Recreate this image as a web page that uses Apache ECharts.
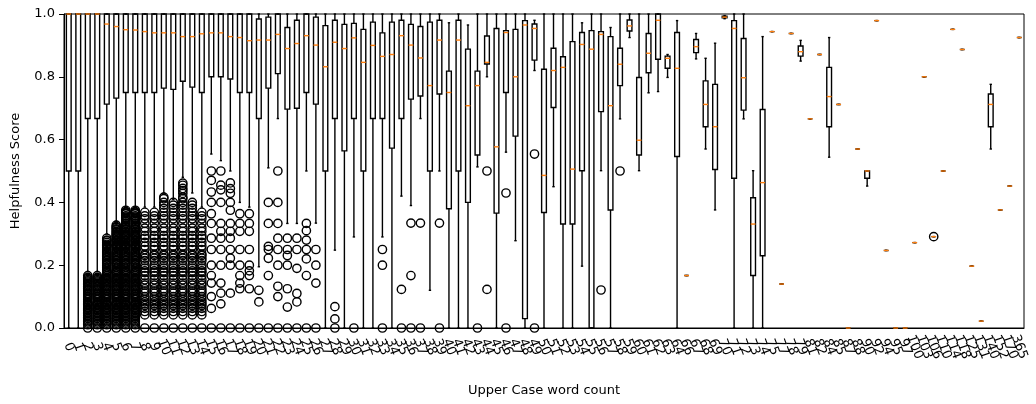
<!DOCTYPE html>
<html>
<head>
<meta charset="utf-8">
<script src="https://cdn.jsdelivr.net/npm/echarts@6/dist/echarts.min.js"></script>
<style>
  html, body { margin: 0; padding: 0; background: #fff; }
  #chart { width: 1036px; height: 404px; }
</style>
</head>
<body>
<div id="chart"></div>
<script>
// x categories: upper case word count
const categories = [
  '0','1','2','3','4','5','6','7','8','9','10','11','12','13','14','15','16','17','18','19',
  '20','21','22','23','24','25','26','27','28','29','30','31','32','33','34','35','36','37','38','39',
  '40','41','42','43','44','45','46','47','48','49','50','51','52','53','54','55','56','57','58','59',
  '60','61','62','63','64','66','67','68','69','70','71','72','73','74','75','77','78','79','81','82',
  '84','85','87','88','90','92','94','95','97','100','103','106','110','114','118','125','131','140','152','170',
  '365'
];

// box statistics per category
const whiskerLow = [
  0, 0, 0.18, 0.18, 0.30, 0.34, 0.385, 0.385, 0.385, 0.385,
  0.43, 0.41, 0.48, 0.43, 0.385, 0.554, 0.533, 0.5, 0.4, 0.385,
  0.195, 0.51, 0.667, 0.333, 0.333, 0.5, 0.334, 0, 0.248, 0,
  0.29, 0, 0, 0.29, 0, 0.42, 0.39, 0.667, 0.12, 0.5,
  0, 0, 0, 0.513, 0.8, 0, 0.56, 0.278, 0, 0.82,
  0, 0.45, 0, 0, 0.197, 0, 0.501, 0, 0.666, 0.925,
  0.501, 0.749, 0.753, 0.798, 0, 0.167, 0.857, 0.57, 0.376, 0.985,
  0, 0.666, 0, 0, 0.944, 0.14, 0.938, 0.85, 0.666, 0.871,
  0.544, 0.712, 0, 0.57, 0.452, 0.979, 0.247, 0, 0, 0.272,
  0.8, 0.291, 0.5, 0.951, 0.887, 0.197, 0.022, 0.57, 0.376, 0.452, 0.925
];
const q1 = [
  0.5, 0.5, 0.667, 0.667, 0.713, 0.732, 0.75, 0.75, 0.75, 0.75,
  0.764, 0.76, 0.786, 0.767, 0.75, 0.8, 0.8, 0.793, 0.75, 0.75,
  0.667, 0.764, 0.81, 0.697, 0.7, 0.75, 0.713, 0.5, 0.667, 0.564,
  0.667, 0.5, 0.667, 0.667, 0.573, 0.667, 0.729, 0.739, 0.5, 0.745,
  0.38, 0.5, 0.4, 0.551, 0.841, 0.366, 0.75, 0.611, 0.03, 0.853,
  0.368, 0.702, 0.331, 0.331, 0.501, 0, 0.689, 0.376, 0.772, 0.946,
  0.551, 0.813, 0.856, 0.827, 0.546, 0.167, 0.877, 0.641, 0.505, 0.988,
  0.477, 0.694, 0.167, 0.23, 0.944, 0.14, 0.938, 0.866, 0.666, 0.871,
  0.641, 0.712, 0, 0.57, 0.477, 0.979, 0.247, 0, 0, 0.272,
  0.8, 0.291, 0.5, 0.951, 0.887, 0.197, 0.022, 0.641, 0.376, 0.452, 0.925
];
const median = [
  1, 1, 1, 1, 0.968, 0.96, 0.95, 0.949, 0.944, 0.94,
  0.94, 0.94, 0.928, 0.928, 0.937, 0.94, 0.94, 0.928, 0.925, 0.915,
  0.917, 0.917, 0.935, 0.89, 0.906, 0.931, 0.901, 0.832, 0.91, 0.89,
  0.924, 0.846, 0.9, 0.865, 0.871, 0.931, 0.901, 0.86, 0.772, 0.917,
  0.75, 0.917, 0.708, 0.772, 0.846, 0.577, 0.941, 0.8, 0.965, 0.954,
  0.486, 0.82, 0.83, 0.506, 0.903, 0.888, 0.935, 0.708, 0.84, 0.962,
  0.598, 0.875, 0.98, 0.859, 0.827, 0.167, 0.896, 0.712, 0.641, 0.99,
  0.954, 0.797, 0.331, 0.463, 0.944, 0.14, 0.938, 0.88, 0.666, 0.871,
  0.737, 0.712, 0, 0.57, 0.5, 0.979, 0.247, 0, 0, 0.272,
  0.8, 0.291, 0.5, 0.951, 0.887, 0.197, 0.022, 0.712, 0.376, 0.452, 0.925
];
const q3 = [
  1, 1, 1, 1, 1, 1, 1, 1, 1, 1,
  1, 1, 1, 1, 1, 1, 1, 1, 1, 1,
  0.984, 0.99, 1, 0.957, 0.98, 1, 0.99, 0.963, 0.98, 0.967,
  0.97, 0.951, 0.974, 0.94, 0.974, 0.98, 0.967, 0.96, 0.974, 0.98,
  0.818, 0.98, 0.888, 0.818, 0.93, 0.954, 0.947, 0.951, 0.979, 0.968,
  0.824, 0.891, 0.864, 0.912, 0.941, 0.947, 0.944, 0.928, 0.891, 0.981,
  0.798, 0.938, 1, 0.866, 0.941, 0.167, 0.919, 0.787, 0.776, 0.993,
  0.979, 0.922, 0.415, 0.696, 0.944, 0.14, 0.938, 0.898, 0.666, 0.871,
  0.83, 0.712, 0, 0.57, 0.5, 0.979, 0.247, 0, 0, 0.272,
  0.8, 0.291, 0.5, 0.951, 0.887, 0.197, 0.022, 0.745, 0.376, 0.452, 0.925
];
const whiskerHigh = [
  1, 1, 1, 1, 1, 1, 1, 1, 1, 1,
  1, 1, 1, 1, 1, 1, 1, 1, 1, 1,
  1, 1, 1, 1, 1, 1, 1, 1, 1, 1,
  1, 1, 1, 1, 1, 1, 1, 1, 1, 1,
  0.972, 1, 0.965, 1, 1, 1, 1, 1, 1, 0.98,
  1, 1, 1, 1, 0.972, 1, 1, 0.957, 1, 1,
  1, 1, 1, 0.871, 0.979, 0.167, 0.938, 0.859, 0.907, 0.995,
  1, 1, 0.501, 0.928, 0.944, 0.14, 0.938, 0.916, 0.666, 0.871,
  0.925, 0.712, 0, 0.57, 0.5, 0.979, 0.247, 0, 0, 0.272,
  0.8, 0.291, 0.5, 0.951, 0.887, 0.197, 0.022, 0.776, 0.376, 0.452, 0.925
];

// outliers of the crowded low-count categories (typical score fractions)
const finePool = [
  0, 0.0105, 0.0154, 0.02, 0.025, 0.03, 0.0345, 0.04, 0.0455, 0.05, 0.0556, 0.0588,
  0.0625, 0.0667, 0.0714, 0.0741, 0.0769, 0.08, 0.0833, 0.0909, 0.0952, 0.1, 0.1053,
  0.1081, 0.1111, 0.1176, 0.1212, 0.125, 0.1304, 0.1333, 0.1379, 0.1429, 0.1463, 0.15,
  0.1538, 0.1579, 0.1613, 0.1667, 0.1714, 0.1765, 0.1786, 0.1818, 0.1875, 0.1935, 0.2,
  0.2051, 0.2083, 0.2143, 0.2174, 0.2222, 0.2273, 0.2308, 0.2353, 0.24, 0.2439, 0.25,
  0.2558, 0.2609, 0.2632, 0.2667, 0.2727, 0.2778, 0.28, 0.2857, 0.2903, 0.2941, 0.2963,
  0.3, 0.3043, 0.3077, 0.3125, 0.3158, 0.32, 0.3226, 0.3276, 0.3333, 0.3387, 0.3438,
  0.3478, 0.35, 0.3529, 0.3571, 0.3636, 0.3659, 0.3684, 0.3704, 0.375
];
const mediumPool = [
  0, 0.0417, 0.0526, 0.0625, 0.0714, 0.0769, 0.0833, 0.0909, 0.1, 0.1111, 0.1176, 0.125,
  0.1364, 0.1429, 0.1538, 0.1667, 0.1765, 0.1818, 0.1905, 0.2, 0.2143, 0.2222, 0.2308,
  0.2353, 0.25, 0.2609, 0.2727, 0.2857, 0.2941, 0.3077, 0.3182, 0.3333, 0.3478, 0.3571,
  0.3684, 0.381, 0.3913, 0.4, 0.4118, 0.4167, 0.4286, 0.4375, 0.4444, 0.4545, 0.4615, 0.4706
];
// highest outlier of categories 0..14
const denseCap = [0, 0, 0.17, 0.17, 0.29, 0.33, 0.375, 0.375, 0.37, 0.37, 0.42, 0.40, 0.47, 0.41, 0.37];

// [category index, value]
const sparseOutliers = [
  [15,0.5],[15,0.47],[15,0.433],[15,0.4],[15,0.364],[15,0.333],[15,0.286],[15,0.25],[15,0.2],[15,0.167],[15,0.143],[15,0.1],[15,0.0625],[15,0],
  [16,0.5],[16,0.455],[16,0.44],[16,0.4],[16,0.333],[16,0.308],[16,0.286],[16,0.25],[16,0.2],[16,0.143],[16,0.111],[16,0.0769],[16,0],
  [17,0.462],[17,0.444],[17,0.429],[17,0.4],[17,0.375],[17,0.333],[17,0.308],[17,0.286],[17,0.25],[17,0.222],[17,0.2],[17,0.111],[17,0],
  [18,0.364],[18,0.333],[18,0.308],[18,0.25],[18,0.2],[18,0.167],[18,0.143],[18,0.125],[18,0],
  [19,0.364],[19,0.333],[19,0.308],[19,0.25],[19,0.2],[19,0.182],[19,0.167],[19,0.125],[19,0],
  [20,0.12],[20,0.083],[20,0],
  [21,0.4],[21,0.333],[21,0.26],[21,0.25],[21,0.222],[21,0.167],[21,0],
  [22,0.5],[22,0.4],[22,0.333],[22,0.286],[22,0.25],[22,0.2],[22,0.133],[22,0.1],[22,0],
  [23,0.286],[23,0.25],[23,0.231],[23,0.2],[23,0.125],[23,0.0667],[23,0],
  [24,0.286],[24,0.25],[24,0.19],[24,0.11],[24,0.083],[24,0],
  [25,0.333],[25,0.31],[25,0.28],[25,0.25],[25,0.22],[25,0.167],[25,0],
  [26,0.25],[26,0.2],[26,0.143],[26,0],
  [28,0.068],[28,0.029],[28,0],
  [30,0], [33,0.25],[33,0.2],[33,0], [35,0.123],[35,0],
  [36,0.334],[36,0.167],[36,0], [37,0.334],[37,0], [39,0.334],[39,0],
  [43,0], [44,0.5],[44,0.123], [46,0.43],[46,0], [49,0.554],[49,0],
  [56,0.121], [58,0.5], [91,0.291]
];

const boxData = categories.map((c, i) => [i, whiskerLow[i], q1[i], median[i], q3[i], whiskerHigh[i]]);

const outlierPoints = [];
denseCap.forEach((cap, i) => {
  if (!cap) return;
  const pool = i < 8 ? finePool : mediumPool;
  pool.forEach(v => { if (v <= cap) outlierPoints.push([i, v]); });
});
sparseOutliers.forEach(p => outlierPoints.push(p));

const chart = echarts.init(document.getElementById('chart'));
const font = 'DejaVu Sans';
const lw = 1.4;

const option = {
  animation: false,
  backgroundColor: '#fff',
  textStyle: { fontFamily: font },
  grid: {
    left: 64, right: 12, top: 14, bottom: 76,
    show: true, borderColor: '#000', borderWidth: 1,
    containLabel: false, outerBoundsMode: 'none'
  },
  xAxis: {
    type: 'category',
    data: categories,
    name: 'Upper Case word count',
    nameLocation: 'middle',
    nameGap: 56,
    nameTextStyle: { color: '#000', fontSize: 13, fontFamily: font },
    axisLine: { lineStyle: { color: '#000', width: 1 } },
    axisTick: { alignWithLabel: true, interval: 0, length: 5, lineStyle: { color: '#000' } },
    axisLabel: {
      interval: 0, rotate: -70, align: 'center', verticalAlign: 'middle',
      margin: 19, color: '#000', fontSize: 13, fontFamily: font, hideOverlap: false
    },
    splitLine: { show: false }
  },
  yAxis: {
    type: 'value',
    min: 0, max: 1, interval: 0.2,
    name: 'Helpfulness Score',
    nameLocation: 'middle',
    nameGap: 42,
    nameTextStyle: { color: '#000', fontSize: 13, fontFamily: font },
    axisLine: { show: true, lineStyle: { color: '#000', width: 1 } },
    axisTick: { show: true, length: 5, lineStyle: { color: '#000' } },
    axisLabel: { formatter: v => v.toFixed(1), color: '#000', fontSize: 13, fontFamily: font, margin: 9 },
    splitLine: { show: false }
  },
  series: [
    {
      type: 'custom',
      name: 'boxes',
      silent: true,
      encode: { x: 0, y: [1, 2, 3, 4, 5] },
      data: boxData,
      renderItem: function (params, api) {
        const i = api.value(0);
        const x = api.coord([i, 0])[0];
        const bw = api.size([1, 0])[0] * 0.5;
        const y = k => api.coord([i, api.value(k)])[1];
        const yLow = y(1), yQ1 = y(2), yMed = y(3), yQ3 = y(4), yHigh = y(5);
        const line = { stroke: '#000', lineWidth: lw };
        return {
          type: 'group',
          children: [
            { type: 'line', shape: { x1: x, y1: yQ1, x2: x, y2: yLow }, style: line },
            { type: 'line', shape: { x1: x, y1: yQ3, x2: x, y2: yHigh }, style: line },
            { type: 'line', shape: { x1: x - bw / 4, y1: yLow, x2: x + bw / 4, y2: yLow }, style: line },
            { type: 'line', shape: { x1: x - bw / 4, y1: yHigh, x2: x + bw / 4, y2: yHigh }, style: line },
            { type: 'rect', shape: { x: x - bw / 2, y: yQ3, width: bw, height: yQ1 - yQ3 },
              style: { stroke: '#000', fill: 'rgba(0,0,0,0)', lineWidth: lw } },
            { type: 'line', shape: { x1: x - bw / 2, y1: yMed, x2: x + bw / 2, y2: yMed },
              style: { stroke: '#ff7f0e', lineWidth: lw } }
          ]
        };
      }
    },
    {
      type: 'scatter',
      name: 'outliers',
      silent: true,
      symbol: 'circle',
      symbolSize: 8.3,
      itemStyle: { color: 'rgba(0,0,0,0)', borderColor: '#000', borderWidth: 1.4, opacity: 1 },
      data: outlierPoints
    }
  ]
};

chart.setOption(option);
</script>
</body>
</html>
